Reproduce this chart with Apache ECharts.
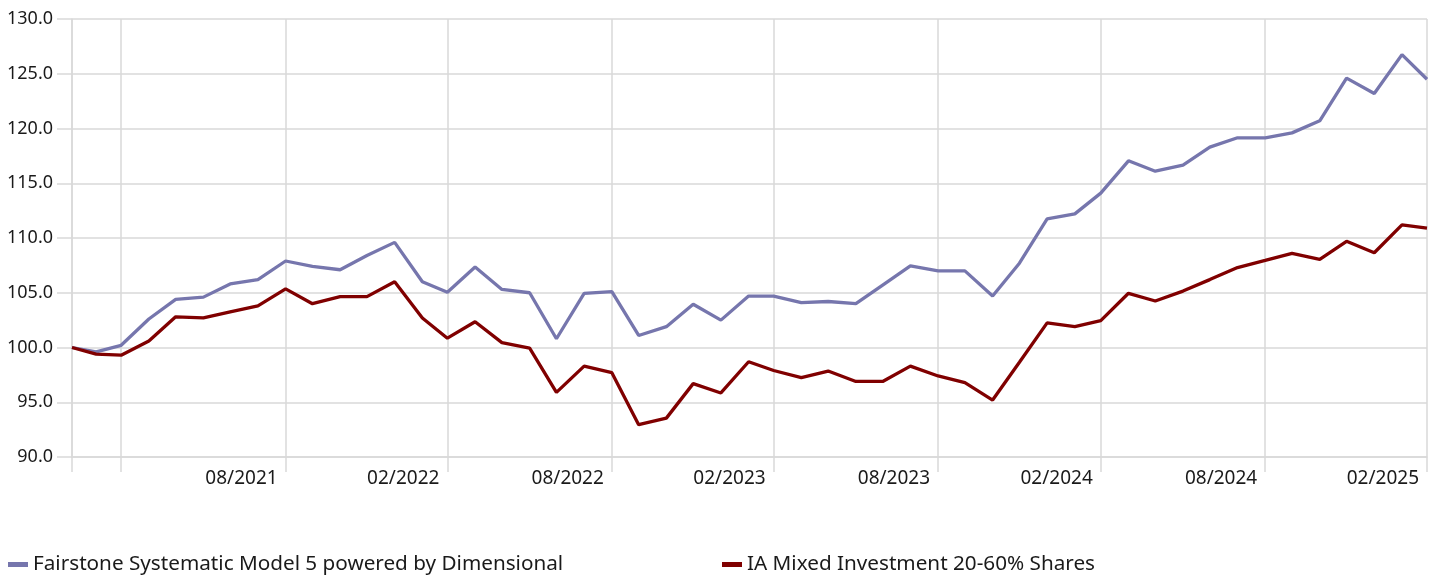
<!DOCTYPE html>
<html>
<head>
    <meta charset="utf-8">
    <title>Performance</title>
    <script src="https://cdn.jsdelivr.net/npm/echarts@6.0.0/dist/echarts.min.js"></script>
</head>
<body style="margin:0">
    <div id="main" style="width:1435px;height:577px;"></div>
    <script type="text/javascript">
        // month-end valuation dates (first one is the launch date)
        var dates = [
            '2021-01-04', '2021-01-31', '2021-02-28', '2021-03-31', '2021-04-30', '2021-05-31', '2021-06-30',
            '2021-07-31', '2021-08-31', '2021-09-30', '2021-10-31', '2021-11-30', '2021-12-31',
            '2022-01-31', '2022-02-28', '2022-03-31', '2022-04-30', '2022-05-31', '2022-06-30',
            '2022-07-31', '2022-08-31', '2022-09-30', '2022-10-31', '2022-11-30', '2022-12-31',
            '2023-01-31', '2023-02-28', '2023-03-31', '2023-04-30', '2023-05-31', '2023-06-30',
            '2023-07-31', '2023-08-31', '2023-09-30', '2023-10-31', '2023-11-30', '2023-12-31',
            '2024-01-31', '2024-02-29', '2024-03-31', '2024-04-30', '2024-05-31', '2024-06-30',
            '2024-07-31', '2024-08-31', '2024-09-30', '2024-10-31', '2024-11-30', '2024-12-31',
            '2025-01-31', '2025-02-28'
        ];
        var fairstone = [
            100.0, 99.6, 100.2, 102.6, 104.4, 104.6, 105.8, 106.2, 107.9, 107.4, 107.1, 108.4, 109.6,
            106.0, 105.05, 107.35, 105.3, 105.0, 100.8, 104.95, 105.1, 101.1, 101.9, 103.95, 102.5,
            104.7, 104.7, 104.1, 104.2, 104.0, 105.7, 107.45, 107.0, 107.0, 104.7, 107.7, 111.75,
            112.2, 114.1, 117.05, 116.1, 116.65, 118.3, 119.15, 119.15, 119.6, 120.7, 124.6, 123.2,
            126.75, 124.5
        ];
        var sector = [
            100.0, 99.4, 99.3, 100.6, 102.8, 102.7, 103.25, 103.8, 105.35, 104.0, 104.65, 104.65, 106.0,
            102.7, 100.85, 102.35, 100.45, 99.95, 95.9, 98.3, 97.7, 92.95, 93.55, 96.7, 95.85,
            98.7, 97.9, 97.25, 97.85, 96.9, 96.9, 98.3, 97.4, 96.8, 95.2, 98.65, 102.25,
            101.9, 102.45, 104.95, 104.25, 105.15, 106.2, 107.3, 107.95, 108.6, 108.05, 109.7, 108.65,
            111.2, 110.9
        ];
        // gridline / tick dates and labelled dates
        var tickDates = ['2021-01-04', '2021-02-28', '2021-08-31', '2022-02-28', '2022-08-31',
            '2023-02-28', '2023-08-31', '2024-02-29', '2024-08-31', '2025-02-28'];
        var labelDates = ['2021-08-31', '2022-02-28', '2022-08-31', '2023-02-28',
            '2023-08-31', '2024-02-29', '2024-08-31', '2025-02-28'];
        var seriesNames = ['Fairstone Systematic Model 5 powered by Dimensional', 'IA Mixed Investment 20-60% Shares'];

        function ts(s) { return echarts.number.parseDate(s).getTime(); }
        function pairs(vals) { return dates.map(function (d, i) { return [ts(d), vals[i]]; }); }

        var font = "'Noto Sans', 'Open Sans', sans-serif";
        var gridColor = '#d9d9d9';
        var legendText = { fontSize: 20.7, color: '#1a1a1a', fontFamily: font };

        var chart = echarts.init(document.getElementById('main'));
        chart.setOption({
            animation: false,
            textStyle: { fontFamily: font },
            grid: { left: 72, right: 8, top: 19, bottom: 120, outerBoundsMode: 'none' },
            legend: [
                {
                    data: [seriesNames[0]], left: 8, top: 554, padding: 0,
                    icon: 'rect', itemWidth: 20, itemHeight: 5, itemGap: 5,
                    textStyle: legendText
                },
                {
                    data: [seriesNames[1]], left: 722, top: 554, padding: 0,
                    icon: 'rect', itemWidth: 20, itemHeight: 5, itemGap: 5,
                    textStyle: legendText
                }
            ],
            xAxis: {
                type: 'value',
                min: ts(dates[0]),
                max: ts(dates[dates.length - 1]),
                axisLine: { show: true, lineStyle: { color: gridColor, width: 1.5 } },
                axisTick: {
                    show: true, length: 15, customValues: tickDates.map(ts),
                    lineStyle: { color: gridColor, width: 1.5 }
                },
                splitLine: { show: true, lineStyle: { color: gridColor, width: 1.5 } },
                axisLabel: {
                    customValues: labelDates.map(ts),
                    align: 'right', padding: [0, 8, 0, 0], margin: 12,
                    fontSize: 19, color: '#1a1a1a', fontFamily: font,
                    formatter: function (v) { return echarts.time.format(v, '{MM}/{yyyy}'); }
                }
            },
            yAxis: {
                type: 'value', min: 90, max: 130, interval: 5,
                axisLine: { show: true, lineStyle: { color: gridColor, width: 1.5 } },
                axisTick: { show: true, length: 15, lineStyle: { color: gridColor, width: 1.5 } },
                splitLine: { show: true, lineStyle: { color: gridColor, width: 1.5 } },
                axisLabel: {
                    margin: 19, fontSize: 18, color: '#1a1a1a', fontFamily: font,
                    formatter: function (v) { return v.toFixed(1); }
                }
            },
            series: [
                {
                    name: seriesNames[0], type: 'line', data: pairs(fairstone),
                    showSymbol: false, color: '#7676ad', lineStyle: { width: 3.3 }
                },
                {
                    name: seriesNames[1], type: 'line', data: pairs(sector),
                    showSymbol: false, color: '#800000', lineStyle: { width: 3.3 }
                }
            ]
        });
    </script>
</body>
</html>
